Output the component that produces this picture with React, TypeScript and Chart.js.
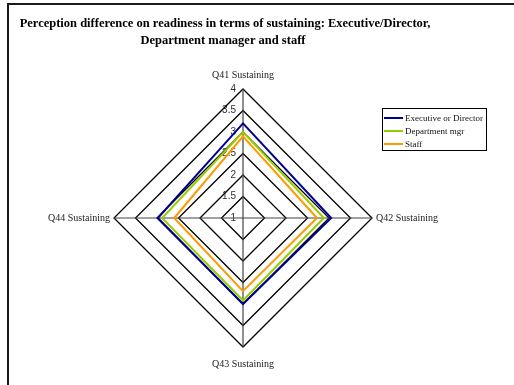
import React, { useEffect, useRef } from 'react';
import { Chart, registerables } from 'chart.js';

Chart.register(...registerables);

const categories = ['Q41 Sustaining', 'Q42 Sustaining', 'Q43 Sustaining', 'Q44 Sustaining'];
const execValues = [3.2, 3.05, 3.0, 2.98];
const deptValues = [3.0, 2.88, 2.92, 2.88];
const staffValues = [2.9, 2.72, 2.7, 2.6];
const seriesNames = ['Executive or Director', 'Department mgr', 'Staff'];
const seriesColors = ['#000090', '#99CC00', '#FF9900'];
const tickValues = [1, 1.5, 2, 2.5, 3, 3.5, 4];
const tickLabels = ['1', '1.5', '2', '2.5', '3', '3.5', '4'];
const titleLines = [
  'Perception difference on readiness in terms of sustaining: Executive/Director,',
  'Department manager and staff',
];

const decorPlugin = {
  id: 'decor',
  beforeDraw(chart: any) {
    const ctx = chart.ctx;
    ctx.save();
    ctx.fillStyle = '#ffffff';
    ctx.fillRect(0, 0, chart.width, chart.height);
    // frame
    ctx.fillStyle = '#1a1a1a';
    ctx.fillRect(7, 3, 2, chart.height);
    ctx.fillRect(7, 3, chart.width, 2);
    // title
    ctx.font = 'bold 12.5px "Liberation Serif"';
    ctx.textAlign = 'center';
    ctx.textBaseline = 'alphabetic';
    ctx.fillStyle = '#000';
    ctx.fillText(titleLines[0], 225, 27);
    ctx.fillText(titleLines[1], 223, 44);
    // tick labels
    const scale = chart.scales.r;
    ctx.font = '10px "Liberation Sans"';
    ctx.textAlign = 'right';
    ctx.textBaseline = 'middle';
    ctx.fillStyle = '#333';
    tickValues.forEach((v, i) => {
      const d = scale.getDistanceFromCenterForValue(v);
      ctx.fillText(tickLabels[i], scale.xCenter - 7, scale.yCenter - d);
    });
    ctx.restore();
  },
  afterDraw(chart: any) {
    const ctx = chart.ctx;
    ctx.save();
    const bx = 382.5, by = 108.5, bw = 104, bh = 42;
    ctx.fillStyle = '#fff';
    ctx.fillRect(bx, by, bw, bh);
    ctx.strokeStyle = '#000';
    ctx.lineWidth = 1;
    ctx.strokeRect(bx, by, bw, bh);
    ctx.font = '9px "Liberation Serif"';
    ctx.textAlign = 'left';
    ctx.textBaseline = 'middle';
    const rows = [118, 131, 144];
    chart.data.datasets.forEach((ds: any, i: number) => {
      ctx.strokeStyle = ds.borderColor;
      ctx.lineWidth = 2;
      ctx.beginPath();
      ctx.moveTo(384, rows[i]);
      ctx.lineTo(403, rows[i]);
      ctx.stroke();
      ctx.fillStyle = '#111';
      ctx.fillText(ds.label, 405, rows[i] + 0.5);
    });
    ctx.restore();
  },
};

export default function App() {
  const ref = useRef<HTMLCanvasElement | null>(null);
  useEffect(() => {
    if (!ref.current) return;
    const chart = new Chart(ref.current, {
      type: 'radar',
      data: {
        labels: categories,
        datasets: [
          { label: seriesNames[0], data: execValues, borderColor: seriesColors[0] },
          { label: seriesNames[1], data: deptValues, borderColor: seriesColors[1] },
          { label: seriesNames[2], data: staffValues, borderColor: seriesColors[2] },
        ].map((d) => ({ ...d, fill: false, borderWidth: 2, pointRadius: 0, tension: 0, backgroundColor: 'transparent' })),
      },
      options: {
        responsive: false,
        animation: false,
        layout: { padding: { left: 33, right: 61, top: 68, bottom: 14 } },
        plugins: {
          legend: { display: false },
          title: { display: false },
          tooltip: { enabled: false },
        },
        scales: {
          r: {
            min: 1,
            max: 4,
            ticks: { stepSize: 0.5, display: false },
            grid: { color: '#000', lineWidth: 1.3 },
            angleLines: { color: '#444', lineWidth: 1.2 },
            pointLabels: {
              font: { family: '"Liberation Serif"', size: 10 },
              color: '#222',
              padding: (c: any) => (c.index === 0 ? 8 : c.index === 2 ? 11 : 4),
            },
          },
        },
      },
      plugins: [decorPlugin],
    } as any);
    return () => chart.destroy();
  }, []);
  return (
    <div style={{ position: 'absolute', left: 0, top: 0, width: 514, height: 385 }}>
      <canvas ref={ref} width={514} height={385} style={{ display: 'block' }} />
    </div>
  );
}
